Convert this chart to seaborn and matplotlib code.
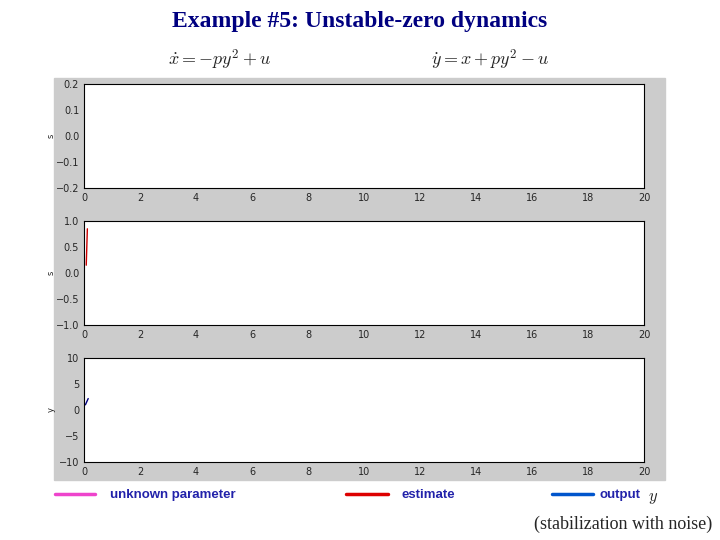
import numpy as np
import matplotlib.pyplot as plt
import seaborn as sns
from matplotlib.patches import Rectangle
from matplotlib.lines import Line2D

# data (traces only visible right at the start)
t_est = [0.08, 0.10, 0.12]
estimate = [0.15, 0.5, 0.85]
t_out = [0.05, 0.1, 0.15]
output_y = [1.0, 1.6, 2.2]

xticks = [0, 2, 4, 6, 8, 10, 12, 14, 16, 18, 20]
yticks_list = [[-0.2, -0.1, 0, 0.1, 0.2], [-1, -0.5, 0, 0.5, 1], [-10, -5, 0, 5, 10]]
ylims = [(-0.2, 0.2), (-1, 1), (-10, 10)]
ylabels = ['s', 's', 'y']

sns.set_style("white")
plt.rcParams['mathtext.fontset'] = 'cm'
fig = plt.figure(figsize=(7.2, 5.4), dpi=100)
fig.patches.append(Rectangle((54/720, 1-480/540), 611/720, 402/540, transform=fig.transFigure,
                             color='#cccccc', zorder=-1))

fig.text(0.5, 1-22/540, 'Example #5: Unstable-zero dynamics', ha='center', va='center',
         fontsize=17, fontweight='bold', color='#000080', family='Liberation Serif')
fig.text(220/720, 1-60/540, r'$\dot{x}=-py^2+u$', ha='center', va='center', fontsize=13)
fig.text(490/720, 1-60/540, r'$\dot{y}=x+py^2-u$', ha='center', va='center', fontsize=13)

tops = [84, 221, 358]
axes = []
for i, top in enumerate(tops):
    ax = fig.add_axes([84/720, 1-(top+104)/540, 560/720, 104/540])
    ax.set_xlim(0, 20)
    ax.set_ylim(*ylims[i])
    ax.set_xticks(xticks)
    ax.set_yticks(yticks_list[i])
    ax.tick_params(direction='in', length=4, labelsize=7, color='black')
    ax.set_ylabel(ylabels[i], fontsize=6)
    ax.yaxis.set_label_coords(-0.05, 0.5)
    for s in ax.spines.values():
        s.set_color('black')
        s.set_linewidth(0.8)
    axes.append(ax)

sns.lineplot(x=t_est, y=estimate, ax=axes[1], color='#cc0000', linewidth=1)
sns.lineplot(x=t_out, y=output_y, ax=axes[2], color='#000080', linewidth=1)

# legend row
items = [(55, 95, '#ee44cc', 'unknown parameter', 110),
         (346, 388, '#dd0000', 'estimate', 401),
         (552, 593, '#0055cc', 'output', 600)]
for x0, x1, c, label, tx in items:
    fig.add_artist(Line2D([x0/720, x1/720], [1-494/540]*2, color=c, linewidth=2.5))
    fig.text(tx/720, 1-495/540, label, ha='left', va='center', fontsize=9.5,
             fontweight='bold', color='#2222aa', family='Liberation Sans')
fig.text(648/720, 1-497/540, r'$y$', ha='left', va='center', fontsize=12)
fig.text(712/720, 1-524/540, '(stabilization with noise)', ha='right', va='center',
         fontsize=13, family='Liberation Serif')

fig.savefig('out.png', dpi=100)
